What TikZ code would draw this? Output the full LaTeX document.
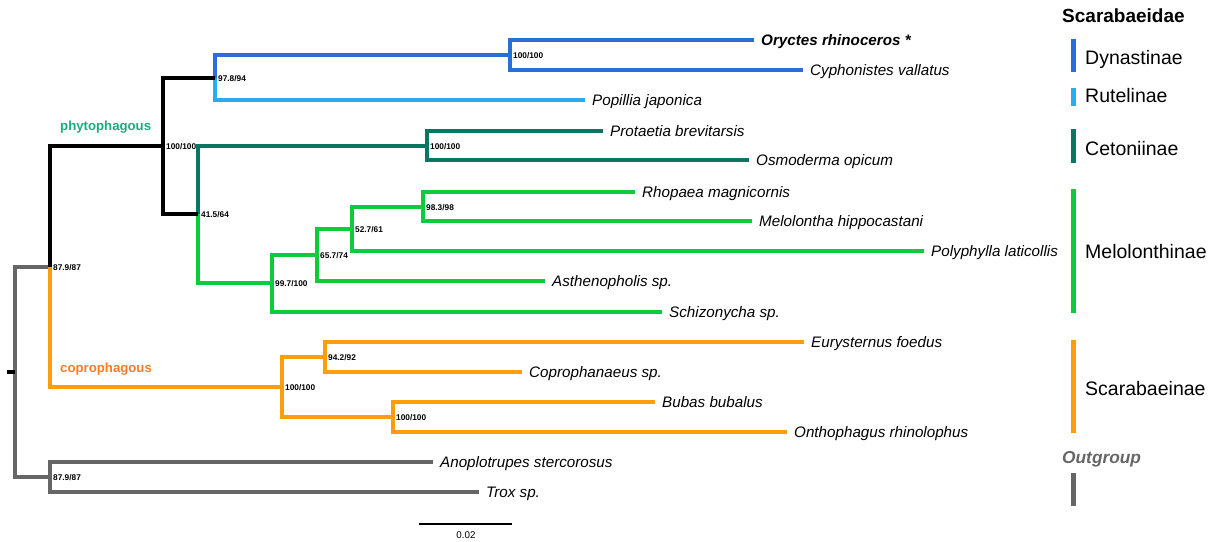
\documentclass[tikz,border=0pt]{standalone}
\usepackage{fontspec}
\setmainfont{Liberation Sans}
\definecolor{cDyn}{HTML}{2A6FD8}
\definecolor{cRut}{HTML}{2CAAEE}
\definecolor{cCet}{HTML}{0A7561}
\definecolor{cMel}{HTML}{0CCC3C}
\definecolor{cSca}{HTML}{FF9D0A}
\definecolor{cGry}{HTML}{666666}
\definecolor{cPhy}{HTML}{1DAA7C}
\definecolor{cCop}{HTML}{FF7B22}
\begin{document}
\begin{tikzpicture}[x=1pt,y=-1pt,
  br/.style={line width=3.3pt, line join=miter},
  blk/.style={br, draw=black},
  dyn/.style={br, draw=cDyn},
  rut/.style={br, draw=cRut},
  cet/.style={br, draw=cCet},
  mel/.style={br, draw=cMel},
  sca/.style={br, draw=cSca},
  gry/.style={br, draw=cGry},
  tip/.style={anchor=base west, inner sep=0pt, xshift=7pt, yshift=-5pt, font=\fontsize{15.2}{18}\selectfont\itshape},
  bs/.style={anchor=base west, inner sep=0pt, xshift=3pt, yshift=-3pt, font=\fontsize{8.3}{10}\selectfont\bfseries},
  leg/.style={anchor=base west, inner sep=0pt, font=\fontsize{19.5}{22}\selectfont},
  legbar/.style={line width=5pt},
  grp/.style={anchor=base west, inner sep=0pt, font=\fontsize{13.2}{15}\selectfont\bfseries},
]
\useasboundingbox (0,0) rectangle (1210,541);

% tips
\coordinate (tOry) at (754,40);
\coordinate (tCyp) at (803,70);
\coordinate (tPop) at (585,100);
\coordinate (tPro) at (603,131);
\coordinate (tOsm) at (749,160);
\coordinate (tRho) at (635,192);
\coordinate (tMel) at (752,221);
\coordinate (tPol) at (924,251);
\coordinate (tAst) at (545,281);
\coordinate (tSch) at (662,312);
\coordinate (tEur) at (804,342);
\coordinate (tCop) at (522,372);
\coordinate (tBub) at (655,402);
\coordinate (tOnt) at (787,432);
\coordinate (tAno) at (433,462);
\coordinate (tTro) at (479,492);

% internal nodes
\coordinate (rootL) at (7,372);
\coordinate (root) at (15,372);
\coordinate (nIn) at (50,267);
\coordinate (nOut) at (50,477);
\coordinate (nPhy) at (163,146);
\coordinate (nCop) at (282,387);
\coordinate (n978) at (215,78);
\coordinate (n415) at (198,214);
\coordinate (nDyn) at (510,55);
\coordinate (nCet) at (427,146);
\coordinate (n997) at (272,283);
\coordinate (n657) at (317,255);
\coordinate (n527) at (352,229);
\coordinate (n983) at (423,207);
\coordinate (n942) at (325,357);
\coordinate (nBub) at (393,417);

% branches
\draw[gry] (root) |- (nIn);
\draw[gry] (root) |- (nOut);
\draw[gry] (nOut) |- (tAno);
\draw[gry] (nOut) |- (tTro);
\draw[blk] (rootL) -- (root);
\draw[sca] (nIn) |- (nCop);
\draw[sca] (nCop) |- (n942);
\draw[sca] (nCop) |- (nBub);
\draw[sca] (n942) |- (tEur);
\draw[sca] (n942) |- (tCop);
\draw[sca] (nBub) |- (tBub);
\draw[sca] (nBub) |- (tOnt);
\draw[dyn] (n978) |- (nDyn);
\draw[dyn] (nDyn) |- (tOry);
\draw[dyn] (nDyn) |- (tCyp);
\draw[rut] (n978) |- (tPop);
\draw[cet] (n415) |- (nCet);
\draw[cet] (nCet) |- (tPro);
\draw[cet] (nCet) |- (tOsm);
\draw[mel] (n415) |- (n997);
\draw[mel] (n997) |- (n657);
\draw[mel] (n997) |- (tSch);
\draw[mel] (n657) |- (n527);
\draw[mel] (n657) |- (tAst);
\draw[mel] (n527) |- (n983);
\draw[mel] (n527) |- (tPol);
\draw[mel] (n983) |- (tRho);
\draw[mel] (n983) |- (tMel);
\draw[blk] (nIn) |- (nPhy);
\draw[blk] (nPhy) |- (n978);
\draw[blk] (nPhy) |- (n415);

% tip labels
\node[tip, font=\fontsize{15.2}{18}\selectfont\bfseries\itshape] (lOry) at (tOry) {Oryctes rhinoceros *};
\node[tip] (lCyp) at (tCyp) {Cyphonistes vallatus};
\node[tip] (lPop) at (tPop) {Popillia japonica};
\node[tip] (lPro) at (tPro) {Protaetia brevitarsis};
\node[tip] (lOsm) at (tOsm) {Osmoderma opicum};
\node[tip] (lRho) at (tRho) {Rhopaea magnicornis};
\node[tip] (lMel) at (tMel) {Melolontha hippocastani};
\node[tip] (lPol) at (tPol) {Polyphylla laticollis};
\node[tip] (lAst) at (tAst) {Asthenopholis sp.};
\node[tip] (lSch) at (tSch) {Schizonycha sp.};
\node[tip] (lEur) at (tEur) {Eurysternus foedus};
\node[tip] (lCop) at (tCop) {Coprophanaeus sp.};
\node[tip] (lBub) at (tBub) {Bubas bubalus};
\node[tip] (lOnt) at (tOnt) {Onthophagus rhinolophus};
\node[tip] (lAno) at (tAno) {Anoplotrupes stercorosus};
\node[tip] (lTro) at (tTro) {Trox sp.};

% support values
\node[bs] (sIn) at (nIn) {87.9/87};
\node[bs] (sOut) at (nOut) {87.9/87};
\node[bs] (sPhy) at (nPhy) {100/100};
\node[bs] (s978) at (n978) {97.8/94};
\node[bs] (s415) at (n415) {41.5/64};
\node[bs] (sDyn) at (nDyn) {100/100};
\node[bs] (sCet) at (nCet) {100/100};
\node[bs] (s997) at (n997) {99.7/100};
\node[bs] (s657) at (n657) {65.7/74};
\node[bs] (s527) at (n527) {52.7/61};
\node[bs] (s983) at (n983) {98.3/98};
\node[bs] (sCop) at (nCop) {100/100};
\node[bs] (s942) at (n942) {94.2/92};
\node[bs] (sBub) at (nBub) {100/100};

% group labels
\node[grp, text=cPhy] (gPhy) at (60,130) {phytophagous};
\node[grp, text=cCop] (gCop) at (60,372) {coprophagous};

% scale bar
\coordinate (sbL) at (419,524);
\coordinate (sbR) at (512,524);
\draw[line width=1.5pt] (sbL) -- (sbR);
\node[anchor=base, inner sep=0pt, font=\fontsize{9.8}{11}\selectfont] (sbT) at (466,538) {0.02};

% legend
\node[leg, font=\fontsize{19}{22}\selectfont\bfseries] (hdr) at (1062,22) {Scarabaeidae};
\draw[legbar, cDyn] (1073.5,39) -- (1073.5,72);
\node[leg] (kDyn) at (1085,64) {Dynastinae};
\draw[legbar, cRut] (1073.5,88) -- (1073.5,106);
\node[leg] (kRut) at (1085,102) {Rutelinae};
\draw[legbar, cCet] (1073.5,129) -- (1073.5,163);
\node[leg] (kCet) at (1085,155) {Cetoniinae};
\draw[legbar, cMel] (1073.5,189) -- (1073.5,313);
\node[leg] (kMel) at (1085,258) {Melolonthinae};
\draw[legbar, cSca] (1073.5,340) -- (1073.5,433);
\node[leg] (kSca) at (1085,395) {Scarabaeinae};
\node[leg, text=cGry, font=\fontsize{17.3}{20}\selectfont\bfseries\itshape] (kOut) at (1062,463) {Outgroup};
\draw[legbar, cGry] (1073.5,473) -- (1073.5,506);
\end{tikzpicture}
\end{document}
